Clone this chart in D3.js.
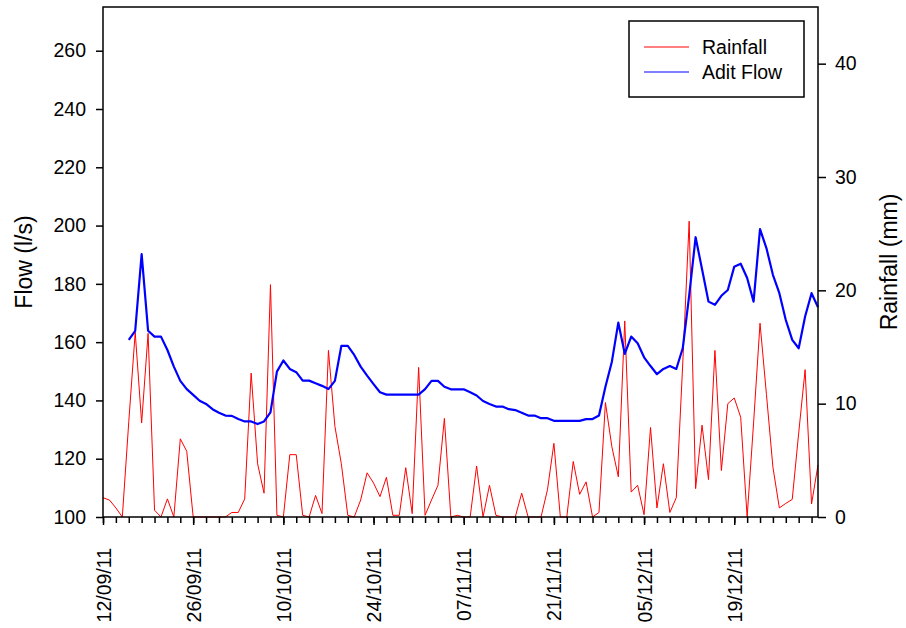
<!DOCTYPE html>
<html>
<head>
<meta charset="utf-8">
<script src="https://cdn.jsdelivr.net/npm/d3@7"></script>
<style>
  body { margin: 0; background: #fff; }
  svg text { font-family: "Liberation Sans", Arial, sans-serif; fill: #000; }
</style>
</head>
<body>
<div id="chart"></div>
<script>
// Daily rainfall (mm), one value per day starting 12/09/11
const rainStart = "2011-09-12";
const rainfall = [
  1.7, 1.5, 0.8, 0, 8.4, 16.3, 8.3, 16.2, 0.6, 0,
  1.6, 0, 6.9, 5.8, 0, 0, 0, 0, 0, 0,
  0.4, 0.4, 1.6, 12.7, 4.7, 2.1, 20.5, 0.15, 0, 5.5,
  5.5, 0.15, 0, 1.9, 0.3, 14.7, 8.0, 4.7, 0.15, 0,
  1.5, 3.9, 3.0, 1.8, 3.5, 0.15, 0.15, 4.35, 0.3, 13.2,
  0.15, 1.5, 2.8, 8.7, 0, 0.15, 0, 0, 4.5, 0,
  2.8, 0.15, 0, 0, 0, 2.1, 0, 0, 0, 2.4,
  6.5, 0, 0, 4.9, 2.0, 3.1, 0, 0.4, 10.1, 6.2,
  3.55, 17.3, 2.2, 2.8, 0.2, 7.9, 0.8, 4.7, 0.4, 1.7,
  13.5, 26.1, 2.5, 8.1, 3.3, 14.7, 4.1, 10.0, 10.5, 8.8,
  0, 8.3, 17.1, 10.8, 4.4, 0.8, 1.2, 1.55, 7.4, 13.0,
  1.15, 4.6
];

// Daily adit flow (l/s), starting 16/09/11
const flowStart = "2011-09-16";
const flow = [
  160.8, 163.9, 190.2, 163.9, 161.9, 161.9, 157.3, 151.6, 146.7, 143.9,
  141.9, 139.9, 138.8, 137.0, 135.8, 134.8, 134.7, 133.6, 132.8, 132.8,
  131.9, 132.8, 135.9, 149.9, 153.7, 150.8, 149.7, 146.8, 146.8, 145.9,
  145.0, 143.9, 146.7, 158.7, 158.7, 155.6, 151.6, 148.5, 145.6, 142.8,
  142.0, 142.0, 142.0, 142.0, 142.0, 142.0, 143.9, 146.7, 146.7, 144.7,
  143.8, 143.8, 143.8, 142.8, 141.7, 139.8, 138.8, 137.9, 137.9, 137.0,
  136.7, 135.8, 134.8, 134.8, 133.9, 133.9, 133.0, 133.0, 133.0, 133.0,
  133.0, 133.6, 133.6, 134.8, 144.7, 153.3, 166.7, 156.0, 161.9, 159.6,
  154.8, 151.8, 149.0, 150.8, 151.8, 150.8, 157.9, 176.0, 196.0, 185.0,
  173.9, 172.8, 175.9, 177.9, 185.9, 186.9, 182.0, 173.9, 198.8, 192.2,
  183.1, 176.8, 167.6, 160.8, 157.9, 168.8, 176.8, 172.0
];

const flowTicks = [100, 120, 140, 160, 180, 200, 220, 240, 260];
const rainTicks = [0, 10, 20, 30, 40];
const legendLabels = ["Rainfall", "Adit Flow"];

const width = 906, height = 628;
const margin = { top: 7, right: 88, bottom: 111, left: 103 };

const parse = d3.timeParse("%Y-%m-%d");
const fmt = d3.timeFormat("%d/%m/%y");
const dayOf = (start, i) => d3.timeDay.offset(parse(start), i);

const rainData = rainfall.map((v, i) => ({ date: dayOf(rainStart, i), value: v }));
const flowData = flow.map((v, i) => ({ date: dayOf(flowStart, i), value: v }));

const x = d3.scaleTime()
  .domain([parse("2011-09-12"), parse("2012-01-01")])
  .range([margin.left, width - margin.right]);
const yFlow = d3.scaleLinear().domain([100, 275]).range([height - margin.bottom, margin.top]);
const yRain = d3.scaleLinear().domain([0, 45]).range([height - margin.bottom, margin.top]);

const svg = d3.select("#chart").append("svg")
  .attr("width", width)
  .attr("height", height);

// lines
const rainLine = d3.line().x(d => x(d.date)).y(d => yRain(d.value));
const flowLine = d3.line().x(d => x(d.date)).y(d => yFlow(d.value));

svg.append("path")
  .datum(rainData)
  .attr("d", rainLine)
  .attr("fill", "none")
  .attr("stroke", "#ff0000")
  .attr("stroke-width", 1);

svg.append("path")
  .datum(flowData)
  .attr("d", flowLine)
  .attr("fill", "none")
  .attr("stroke", "#0000ff")
  .attr("stroke-width", 2.2)
  .attr("stroke-linejoin", "round");

// frame
svg.append("rect")
  .attr("x", margin.left)
  .attr("y", margin.top)
  .attr("width", width - margin.left - margin.right)
  .attr("height", height - margin.top - margin.bottom)
  .attr("fill", "none")
  .attr("stroke", "#000")
  .attr("stroke-width", 1.5);

// axes
const styleAxis = g => {
  g.select(".domain").remove();
  g.selectAll("line").attr("stroke", "#000").attr("stroke-width", 1.5);
  g.selectAll("text").style("font-size", "19.5px");
};

svg.append("g")
  .attr("transform", `translate(${margin.left},0)`)
  .call(d3.axisLeft(yFlow).tickValues(flowTicks).tickSize(7).tickPadding(10))
  .call(styleAxis);

svg.append("g")
  .attr("transform", `translate(${width - margin.right},0)`)
  .call(d3.axisRight(yRain).tickValues(rainTicks).tickSize(8).tickPadding(9))
  .call(styleAxis);

// x minor ticks every 2 days
const minorDates = d3.timeDay.range(parse("2011-09-12"), parse("2012-01-01"), 1)
  .filter((d, i) => i % 2 === 0);
svg.append("g")
  .attr("transform", `translate(0,${height - margin.bottom})`)
  .call(d3.axisBottom(x).tickValues(minorDates).tickSize(6).tickFormat(""))
  .call(styleAxis);

// x major ticks every 14 days
const majorDates = minorDates.filter((d, i) => i % 7 === 0);
const xMajor = svg.append("g")
  .attr("transform", `translate(0,${height - margin.bottom})`)
  .call(d3.axisBottom(x).tickValues(majorDates).tickSize(8).tickFormat(fmt))
  .call(styleAxis);
xMajor.selectAll("text")
  .attr("transform", "rotate(-90)")
  .attr("text-anchor", "end")
  .attr("x", -31)
  .attr("y", 0)
  .attr("dy", "0.36em");

// axis titles
svg.append("text")
  .attr("transform", `translate(32,${(margin.top + height - margin.bottom) / 2}) rotate(-90)`)
  .attr("text-anchor", "middle")
  .style("font-size", "23px")
  .text("Flow (l/s)");

svg.append("text")
  .attr("transform", `translate(897,${(margin.top + height - margin.bottom) / 2}) rotate(-90)`)
  .attr("text-anchor", "middle")
  .style("font-size", "23px")
  .text("Rainfall (mm)");

// legend
const legend = svg.append("g").attr("transform", "translate(629,21)");
legend.append("rect")
  .attr("width", 175)
  .attr("height", 76)
  .attr("fill", "#fff")
  .attr("stroke", "#000")
  .attr("stroke-width", 1.5);
const legendColors = ["#ff0000", "#0000ff"];
legendLabels.forEach((label, i) => {
  const yy = 26 + i * 25;
  legend.append("line")
    .attr("x1", 15).attr("x2", 60)
    .attr("y1", yy).attr("y2", yy)
    .attr("stroke", legendColors[i])
    .attr("stroke-width", 1);
  legend.append("text")
    .attr("x", 73)
    .attr("y", yy + 7)
    .style("font-size", "19.5px")
    .text(label);
});
</script>
</body>
</html>
